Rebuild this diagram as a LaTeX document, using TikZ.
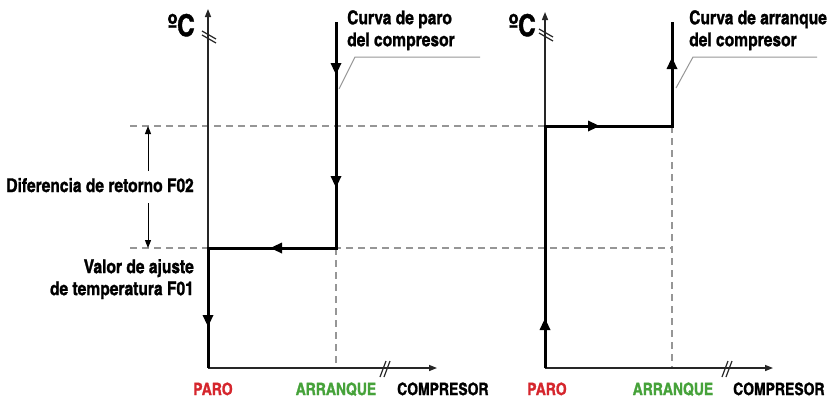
\documentclass[tikz,border=0pt]{standalone}
\usepackage{fontspec}
\setmainfont{texgyreheroscn-bold.otf}[FakeBold=1.2]
\usepackage{xcolor}
\usetikzlibrary{arrows.meta,positioning}
\definecolor{paroRed}{RGB}{213,38,45}
\definecolor{arranqueGreen}{RGB}{70,162,58}
\definecolor{guideGray}{RGB}{150,150,150}

\tikzset{
  axisline/.style={line width=1.4pt,black!85,-{Triangle[length=8pt,width=6pt]}},
  curveline/.style={line width=3pt,black},
  curvetip/.style={line width=3pt,black,-{Triangle[length=12pt,width=10pt]}},
  guideline/.style={line width=1.2pt,guideGray,dash pattern=on 7pt off 5pt},
  calloutline/.style={line width=1pt,guideGray},
  breakmark/.style={line width=1.2pt,black!85},
  dimarrow/.style={line width=1pt,black,-{Triangle[length=8pt,width=6pt]}},
  lbl/.style={inner sep=0pt,font=\fontsize{19}{22}\selectfont},
  unitlbl/.style={inner sep=0pt,font=\fontsize{30}{32}\selectfont},
  axislbl/.style={inner sep=0pt,font=\fontsize{17}{20}\selectfont}
}

\begin{document}
\begin{tikzpicture}[x=1pt,y=-1pt]
  \useasboundingbox (0,0) rectangle (827,400);
  % key points of the two diagrams
  \coordinate (origL) at (208,368);
  \coordinate (origR) at (545,368);
  \def\hiY{126}  % upper level
  \def\loY{248}  % set point level

  % dashed guide lines
  \draw[guideline] (130,\hiY) -- (545,\hiY);
  \draw[guideline] (130,\loY) -- (672,\loY);
  \draw[guideline] (336,\loY) -- (336,368);
  \draw[guideline] (672,\hiY) -- (672,368);

  % axes
  \draw[axisline] (origL) -- (208,9);
  \draw[axisline] (origL) -- (437,368);
  \draw[axisline] (origR) -- (545,12);
  \draw[axisline] (origR) -- (773,368);

  % axis breaks
  \foreach \dx in {0,4} {
    \draw[breakmark] (380+\dx,377) -- (386+\dx,361);
    \draw[breakmark] (722+\dx,377) -- (728+\dx,361);
  }
  \foreach \dy in {0,4} {
    \draw[breakmark] (202,31+\dy) -- (216,39+\dy);
    \draw[breakmark] (539,29+\dy) -- (553,37+\dy);
  }

  % compressor stop curve
  \coordinate (stopTop) at (336,22);
  \coordinate (stopCorner) at (336,\loY);
  \coordinate (setCorner) at (208,\loY);
  \draw[curveline] (stopTop) -- (stopCorner) -- (setCorner) -- (origL);
  \draw[curvetip] (stopTop) -- (336,75);
  \draw[curvetip] (stopTop) -- (336,188);
  \draw[curvetip] (stopCorner) -- (270,\loY);
  \draw[curvetip] (setCorner) -- (208,327);

  % compressor start curve
  \coordinate (startCorner) at (545,\hiY);
  \coordinate (startStep) at (672,\hiY);
  \coordinate (startTop) at (672,22);
  \draw[curveline] (origR) -- (startCorner) -- (startStep) -- (startTop);
  \draw[curvetip] (origR) -- (545,318);
  \draw[curvetip] (startCorner) -- (600,\hiY);
  \draw[curvetip] (startStep) -- (672,57);

  % callouts
  \draw[calloutline] (339,89) -- (355,57) -- (480,57);
  \draw[calloutline] (676,88) -- (693,57) -- (817,57);
  \node[lbl,anchor=north west,align=left] (stopLbl) at (347,10)
    {Curva de paro\\del compresor};
  \node[lbl,anchor=north west,align=left] (startLbl) at (689,10)
    {Curva de arranque\\del compresor};

  % unit labels
  \node[unitlbl,anchor=base east] (unitL) at (195,36) {ºC};
  \node[unitlbl,anchor=base east] (unitR) at (536,36) {ºC};

  % return difference
  \node[lbl,anchor=base east] (difLbl) at (194,192) {Diferencia de retorno F02};
  \coordinate (difTop) at (148,\hiY);
  \coordinate (difBot) at (148,\loY);
  \draw[dimarrow] (148,171) -- (difTop);
  \draw[dimarrow] (148,203) -- (difBot);
  \node[lbl,anchor=north east,align=right] (setLbl) at (194,259)
    {Valor de ajuste\\de temperatura F01};

  % horizontal axis labels
  \node[axislbl,anchor=base,text=paroRed] (paroL) at (213,395) {PARO};
  \node[axislbl,anchor=base,text=arranqueGreen] (arrL) at (336,395) {ARRANQUE};
  \node[axislbl,anchor=base west] (compL) at (397,395) {COMPRESOR};
  \node[axislbl,anchor=base,text=paroRed] (paroR) at (547,395) {PARO};
  \node[axislbl,anchor=base,text=arranqueGreen] (arrR) at (673,395) {ARRANQUE};
  \node[axislbl,anchor=base west] (compR) at (733,395) {COMPRESOR};
\end{tikzpicture}
\end{document}
